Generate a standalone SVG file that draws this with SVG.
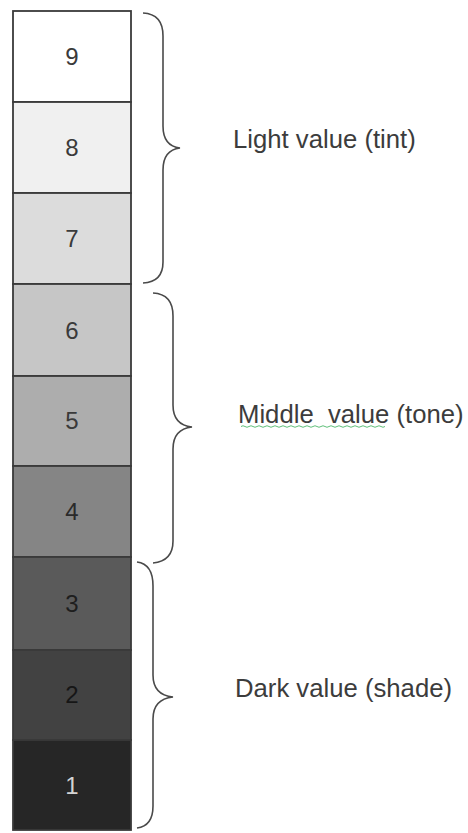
<svg xmlns="http://www.w3.org/2000/svg" width="468" height="833" viewBox="0 0 468 833">
<style>
.box{stroke:#3a3a3a;stroke-width:1.8}
.num{font-family:"Liberation Sans",Arial,sans-serif;font-size:24px;text-anchor:middle;fill:#3a3a3a}
.lbl{font-family:"Liberation Sans",Arial,sans-serif;font-size:25.7px;fill:#3c3c3c}
.brace{fill:none;stroke:#4a4a4a;stroke-width:1.6}
</style>
<rect width="468" height="833" fill="#ffffff"/>
<g id="v9"><rect class="box" x="13" y="11" width="118" height="91" fill="#ffffff"/><text class="num" x="72" y="65">9</text></g>
<g id="v8"><rect class="box" x="13" y="102" width="118" height="91" fill="#f0f0f0"/><text class="num" x="72" y="156">8</text></g>
<g id="v7"><rect class="box" x="13" y="193" width="118" height="91" fill="#dcdcdc"/><text class="num" x="72" y="247">7</text></g>
<g id="v6"><rect class="box" x="13" y="284" width="118" height="92" fill="#c6c6c6"/><text class="num" x="72" y="339">6</text></g>
<g id="v5"><rect class="box" x="13" y="376" width="118" height="90" fill="#adadad"/><text class="num" x="72" y="429">5</text></g>
<g id="v4"><rect class="box" x="13" y="466" width="118" height="91" fill="#858585"/><text class="num" x="72" y="520" style="fill:#2a2a2a">4</text></g>
<g id="v3"><rect class="box" x="13" y="557" width="118" height="93" fill="#5a5a5a"/><text class="num" x="72" y="612" style="fill:#1e1e1e">3</text></g>
<g id="v2"><rect class="box" x="13" y="650" width="118" height="90" fill="#424242"/><text class="num" x="72" y="703" style="fill:#161616">2</text></g>
<g id="v1"><rect class="box" x="13" y="740" width="118" height="90" fill="#262626"/><text class="num" x="72" y="794" style="fill:#d4d4d4">1</text></g>
<g id="connectors">
<path class="brace" d="M143,13 Q163,14 163,36 L163,126 Q163,146 180,148 Q163,150 163,170 L163,262 Q163,282 143,283"/>
<path class="brace" d="M153,293 Q173,294 173,316 L173,405 Q173,425 192,427 Q173,429 173,449 L173,541 Q173,561 153,563"/>
<path class="brace" d="M137,562 Q153,564 153,586 L153,675 Q153,695 173,697 Q153,699 153,719 L153,806 Q153,826 137,828"/>
</g>
<g id="label-light"><text class="lbl" x="233" y="148">Light value (tint)</text></g>
<g id="label-middle"><text class="lbl" x="238" y="423" xml:space="preserve">Middle  value (tone)</text>
<path d="M241,426.5 q2,-1.5 4,0 t4,0 t4,0 t4,0 t4,0 t4,0 t4,0 t4,0 t4,0 t4,0 t4,0 t4,0 t4,0 t4,0 t4,0 t4,0 t4,0 t4,0 t4,0 t4,0 t4,0 t4,0 t4,0 t4,0 t4,0 t4,0 t4,0 t4,0 t4,0 t4,0 t4,0 t4,0 t4,0 t4,0 t4,0 t4,0" fill="none" stroke="#5fbf7a" stroke-width="1"/></g>
<g id="label-dark"><text class="lbl" x="235" y="697">Dark value (shade)</text></g>
</svg>
